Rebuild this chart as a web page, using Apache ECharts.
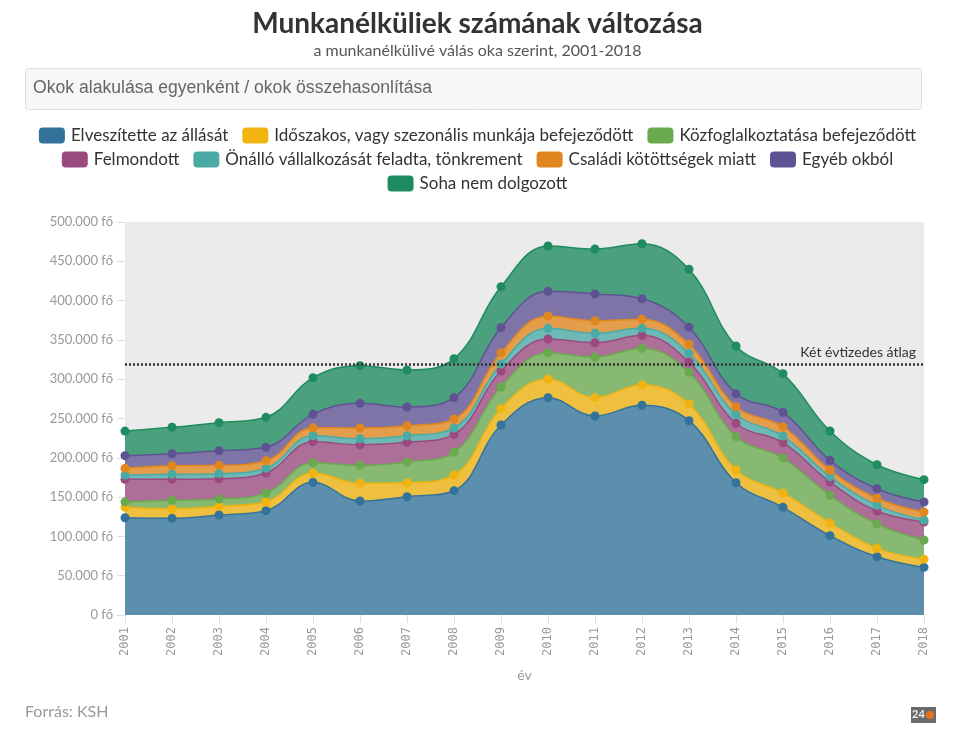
<!DOCTYPE html>
<html>
<head>
<meta charset="utf-8">
<script src="https://cdn.jsdelivr.net/npm/echarts@6/dist/echarts.min.js"></script>
<style>
html,body{margin:0;padding:0;background:#fff;}
#chart{width:955px;height:740px;}
</style>
</head>
<body>
<div id="chart"></div>
<script>
// Data (fő)
var years = ['2001','2002','2003','2004','2005','2006','2007','2008','2009','2010','2011','2012','2013','2014','2015','2016','2017','2018'];
var seriesNames = ['Elveszítette az állását','Időszakos, vagy szezonális munkája befejeződött','Közfoglalkoztatása befejeződött','Felmondott','Önálló vállalkozását feladta, tönkrement','Családi kötöttségek miatt','Egyéb okból','Soha nem dolgozott'];
var elveszitette = [123800,123000,127200,132700,168800,145000,150500,158200,241700,276500,253200,266800,247200,168300,137000,100900,74200,60600];
var idoszakos    = [13200,11900,11100,11100,11900,22600,17800,19900,20800,23800,23300,26200,21200,16200,18200,16100,10600,10200];
var kozfoglalk   = [7000,11000,9300,11400,13100,22800,26400,28900,27600,33400,51700,46300,40300,42400,44500,35300,31000,24600];
var felmondott   = [28600,26700,25800,25500,26700,26300,25000,22900,20300,17400,18200,16500,13200,17000,19500,16900,16500,22900];
var onallo       = [5400,6400,6400,5900,7600,7600,8400,8000,8900,13600,12000,8900,11000,11400,8500,6800,7200,2500];
var csaladi      = [8600,11000,10600,9700,10200,13600,12700,11500,14400,15700,16000,11500,11500,9700,11900,8500,9000,10200];
var egyeb        = [16100,15200,18600,17100,17000,31400,23800,27100,31800,31400,34000,26200,21600,16600,18300,12300,12200,12800];
var sohaNem      = [31300,33600,35700,38100,46600,47900,47100,49600,52200,57700,57200,70000,73800,60600,49100,37300,30500,28400];

var dataArrays = [elveszitette,idoszakos,kozfoglalk,felmondott,onallo,csaladi,egyeb,sohaNem];
var colors = ['#33739b','#f0b310','#6aaa4f','#9b4a80','#4aaba5','#e0861e','#5f5294','#1e8c5f'];

// two-decade average of totals
var totals = years.map(function(_, i){ var s=0; dataArrays.forEach(function(a){ s+=a[i]; }); return s; });
var avg = totals.reduce(function(a,b){return a+b;},0)/totals.length;

function fmt(v){
  var s = String(Math.round(v));
  return s.replace(/\B(?=(\d{3})+(?!\d))/g,'.') + ' fő';
}

var series = dataArrays.map(function(arr, i){
  var s = {
    name: seriesNames[i],
    type: 'line',
    stack: 'total',
    data: arr,
    smooth: 0.4,
    symbol: 'circle',
    symbolSize: 9,
    showSymbol: true,
    itemStyle: {color: colors[i]},
    lineStyle: {color: colors[i], width: 1.5},
    areaStyle: {color: colors[i], opacity: 0.78},
    emphasis: {disabled: true},
    z: 2
  };
  if (i === dataArrays.length-1) {
    s.markLine = {
      silent: true,
      symbol: ['none','none'],
      data: [{yAxis: avg}],
      lineStyle: {color: '#333', type: [2,2], width: 2.5},
      label: {show: true, position: 'insideEndTop', formatter: 'Két évtizedes átlag', color: '#333', fontSize: 14, fontFamily: 'Lato', padding: [0, 3, 0, 0]},
      z: 10
    };
  }
  return s;
});

function legendRow(names, top){
  return {
    top: top, left: 'center',
    data: names.map(function(n){return {name:n, icon:'roundRect'};}),
    itemWidth: 26, itemHeight: 16, itemGap: 14,
    selectedMode: false,
    textStyle: {fontSize: 17, color: '#333', fontFamily: 'Lato', padding: [0,0,0,1]}
  };
}

var chart = echarts.init(document.getElementById('chart'));
chart.setOption({
  animation: false,
  backgroundColor: '#fff',
  title: [{
    text: 'Munkanélküliek számának változása',
    subtext: 'a munkanélkülivé válás oka szerint, 2001-2018',
    left: 'center', top: 5,
    itemGap: 5,
    textStyle: {fontSize: 28, fontWeight: 'bold', color: '#333', fontFamily: 'Lato'},
    subtextStyle: {fontSize: 16, color: '#555', fontFamily: 'Lato'}
  }],
  legend: [
    legendRow(seriesNames.slice(0,3), 122),
    legendRow(seriesNames.slice(3,7), 146),
    legendRow(seriesNames.slice(7), 170)
  ],
  grid: {left: 125, right: 31, top: 222, bottom: 125, show: true, backgroundColor: '#ebebeb', borderWidth: 0},
  xAxis: {
    type: 'category', data: years, boundaryGap: false,
    name: 'év', nameLocation: 'middle', nameGap: 53,
    nameTextStyle: {color: '#999', fontSize: 14, fontFamily: 'Lato'},
    axisLine: {show: false},
    axisTick: {show: true, alignWithLabel: true, length: 8, lineStyle: {color: '#ddd'}},
    axisLabel: {rotate: 90, color: '#999', fontSize: 12, fontFamily: 'DejaVu Sans Mono', margin: 12},
    splitLine: {show: false}
  },
  yAxis: {
    type: 'value', min: 0, max: 500000, interval: 50000,
    axisLine: {show: false},
    axisTick: {show: true, length: 8, lineStyle: {color: '#ddd'}},
    axisLabel: {color: '#999', fontSize: 13, fontFamily: 'Lato', margin: 12, formatter: function(v){ return fmt(v); }},
    splitLine: {show: false}
  },
  graphic: [
    {type: 'rect', left: 25, top: 68, shape: {width: 896, height: 41, r: 3}, style: {fill: '#f7f7f7', stroke: '#ddd', lineWidth: 1}},
    {type: 'text', left: 33, top: 79, style: {text: 'Okok alakulása egyenként / okok összehasonlítása', fill: '#666', font: '17.6px "Liberation Sans", Arial, sans-serif'}},
    {type: 'text', left: 25, top: 704, style: {text: 'Forrás: KSH', fill: '#999', font: '16px Lato, sans-serif'}},
    {type: 'rect', left: 911, top: 707, shape: {width: 25, height: 16}, style: {fill: '#6b6b6e'}},
    {type: 'text', left: 912, top: 709, style: {text: '24', fill: '#eee', font: 'bold 11px Lato, sans-serif'}},
    {type: 'circle', left: 926, top: 711, shape: {r: 4}, style: {fill: '#e8731d'}}
  ],
  series: series
});
</script>
</body>
</html>
